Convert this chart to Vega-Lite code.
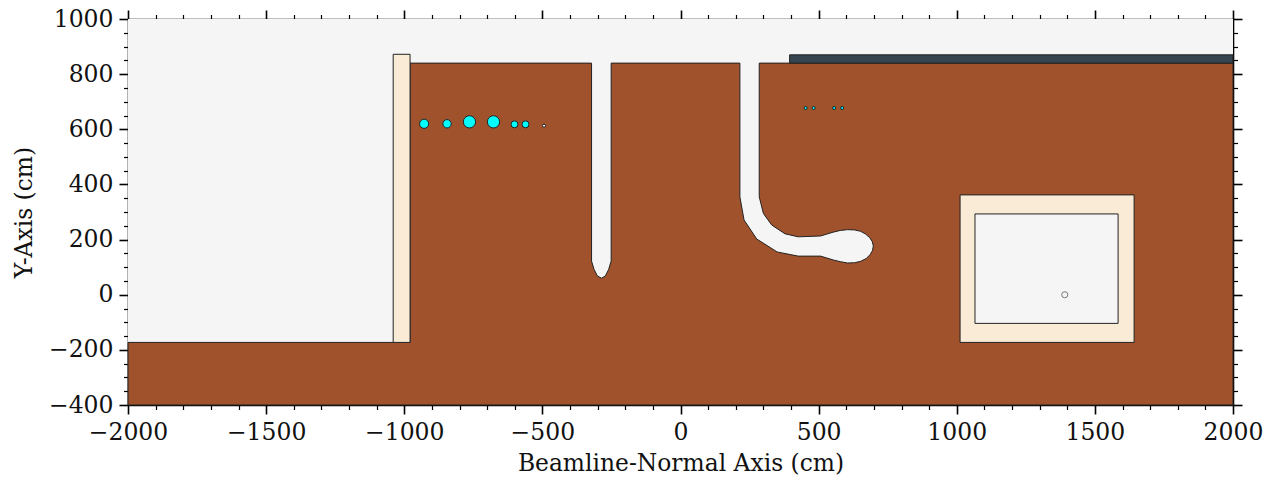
{
"$schema":"https://vega.github.io/schema/vega-lite/v6.json",
"width":1105,"height":386,
"autosize":{"type":"none"},
"padding":{"left":128,"top":19,"right":35,"bottom":74},
"background":"white",
"config":{"view":{"stroke":null},"font":"DejaVu Serif",
"axis":{"grid":false,"labelFont":"DejaVu Serif","titleFont":"DejaVu Serif","labelFontSize":23.5,"titleFontSize":23.4,"titleFontWeight":"normal","labelColor":"#111","titleColor":"#111","labelPadding":6,"tickColor":"black","domainColor":"black","domainWidth":1.6,"tickWidth":1.6,"tickSize":9,"labelOverlap":false,"labelFlush":false,"zindex":1,"format":"d"}},
"datasets":{
"air":[{"x":-2000,"x2":2000,"y":-400,"y2":1000}],
"room":[{"x":1066,"x2":1584,"y":-104,"y2":293}],
"ground":[
{"i":0,"x":-2000,"y":-400},{"i":1,"x":2000,"y":-400},{"i":2,"x":2000,"y":840},{"i":3,"x":285,"y":840},{"i":4,"x":285,"y":355},{"i":5,"x":300,"y":295},{"i":6,"x":330,"y":253},{"i":7,"x":378,"y":221},{"i":8,"x":426,"y":210},{"i":9,"x":507,"y":213},{"i":10,"x":530,"y":220},{"i":11,"x":553,"y":227},{"i":12,"x":578,"y":233},{"i":13,"x":605,"y":236},{"i":14,"x":630,"y":235},{"i":15,"x":652,"y":230},{"i":16,"x":670,"y":220},{"i":17,"x":685,"y":207},{"i":18,"x":694,"y":193},{"i":19,"x":698,"y":177},{"i":20,"x":695,"y":160},{"i":21,"x":686,"y":145},{"i":22,"x":672,"y":131},{"i":23,"x":652,"y":121},{"i":24,"x":630,"y":116},{"i":25,"x":605,"y":115},{"i":26,"x":578,"y":120},{"i":27,"x":553,"y":126},{"i":28,"x":530,"y":133},{"i":29,"x":507,"y":140},{"i":30,"x":426,"y":140},{"i":31,"x":350,"y":155},{"i":32,"x":276,"y":202},{"i":33,"x":230,"y":271},{"i":34,"x":215,"y":355},{"i":35,"x":215,"y":840},{"i":36,"x":-251,"y":840},{"i":37,"x":-251,"y":122},{"i":38,"x":-260,"y":92},{"i":39,"x":-272,"y":68},{"i":40,"x":-286,"y":60},{"i":41,"x":-301,"y":68},{"i":42,"x":-313,"y":92},{"i":43,"x":-322,"y":122},{"i":44,"x":-322,"y":840},{"i":45,"x":-979,"y":840},{"i":46,"x":-979,"y":-173},{"i":47,"x":-2000,"y":-173}],
"wall":[{"x":-1040,"x2":-979,"y":-173,"y2":872}],
"roof":[{"x":395,"x2":2000,"y":840,"y2":870}],
"shell":[{"x":1012,"x2":1642,"y":-173,"y2":362}],
"points":[
{"x":-928,"y":620,"r":16.5,"kind":"a"},{"x":-845,"y":620,"r":15,"kind":"a"},{"x":-764,"y":627,"r":22,"kind":"a"},{"x":-677,"y":627,"r":22,"kind":"a"},{"x":-601,"y":618,"r":12.5,"kind":"a"},{"x":-561,"y":618,"r":12.5,"kind":"a"},{"x":-494,"y":613,"r":5.5,"kind":"b"},
{"x":453,"y":677,"r":5.5,"kind":"a"},{"x":482,"y":677,"r":5.5,"kind":"a"},{"x":556,"y":677,"r":5.5,"kind":"a"},{"x":585,"y":677,"r":5.5,"kind":"a"},
{"x":1391,"y":0,"r":11,"kind":"c"}]
},
"resolve":{"axis":{"x":"independent","y":"independent"}},
"layer":[
{"data":{"name":"air"},"mark":{"type":"rect","fill":"#f5f5f5","stroke":null},
"encoding":{
"x":{"field":"x","type":"quantitative","scale":{"domain":[-2000,2000],"nice":false,"zero":false},"axis":{"orient":"bottom","title":"Beamline-Normal Axis (cm)","titlePadding":9,"values":[-2000,-1500,-1000,-500,0,500,1000,1500,2000]}},
"x2":{"field":"x2"},
"y":{"field":"y","type":"quantitative","scale":{"domain":[-400,1000],"nice":false,"zero":false},"axis":{"orient":"left","title":"Y-Axis (cm)","titlePadding":12,"values":[-400,-200,0,200,400,600,800,1000]}},
"y2":{"field":"y2"}}},
{"data":{"name":"ground"},"mark":{"type":"line","fill":"#a0522d","stroke":"#222","strokeWidth":1,"interpolate":"linear-closed"},
"encoding":{
"x":{"field":"x","type":"quantitative","axis":{"orient":"bottom","title":null,"labels":false,"domain":false,"tickSize":4.5,"tickWidth":1.2,"values":[-1900,-1800,-1700,-1600,-1400,-1300,-1200,-1100,-900,-800,-700,-600,-400,-300,-200,-100,100,200,300,400,600,700,800,900,1100,1200,1300,1400,1600,1700,1800,1900]}},
"y":{"field":"y","type":"quantitative","axis":{"orient":"left","title":null,"labels":false,"domain":false,"tickSize":4.5,"tickWidth":1.2,"values":[-350,-300,-250,-150,-100,-50,50,100,150,250,300,350,450,500,550,650,700,750,850,900,950]}},
"order":{"field":"i","type":"quantitative"}}},
{"data":{"name":"wall"},"mark":{"type":"rect","fill":"#faebd7","stroke":"#222","strokeWidth":1},
"encoding":{
"x":{"field":"x","type":"quantitative","axis":{"orient":"top","title":null,"labels":false,"tickSize":9,"values":[-2000,-1500,-1000,-500,0,500,1000,1500,2000]}},
"x2":{"field":"x2"},
"y":{"field":"y","type":"quantitative","axis":{"orient":"right","title":null,"labels":false,"tickSize":9,"values":[-400,-200,0,200,400,600,800,1000]}},
"y2":{"field":"y2"}}},
{"data":{"name":"roof"},"mark":{"type":"rect","fill":"#36454f","stroke":"#222","strokeWidth":1},
"encoding":{
"x":{"field":"x","type":"quantitative","axis":{"orient":"top","title":null,"labels":false,"domain":false,"tickSize":4.5,"tickWidth":1.2,"values":[-1900,-1800,-1700,-1600,-1400,-1300,-1200,-1100,-900,-800,-700,-600,-400,-300,-200,-100,100,200,300,400,600,700,800,900,1100,1200,1300,1400,1600,1700,1800,1900]}},
"x2":{"field":"x2"},
"y":{"field":"y","type":"quantitative","axis":{"orient":"right","title":null,"labels":false,"domain":false,"tickSize":4.5,"tickWidth":1.2,"values":[-350,-300,-250,-150,-100,-50,50,100,150,250,300,350,450,500,550,650,700,750,850,900,950]}},
"y2":{"field":"y2"}}},
{"data":{"name":"shell"},"mark":{"type":"rect","fill":"#faebd7","stroke":"#222","strokeWidth":1},
"encoding":{"x":{"field":"x","type":"quantitative","axis":null},"x2":{"field":"x2"},"y":{"field":"y","type":"quantitative","axis":null},"y2":{"field":"y2"}}},
{"data":{"name":"room"},"mark":{"type":"rect","fill":"#f5f5f5","stroke":"#222","strokeWidth":1},
"encoding":{"x":{"field":"x","type":"quantitative","axis":null},"x2":{"field":"x2"},"y":{"field":"y","type":"quantitative","axis":null},"y2":{"field":"y2"}}},
{"data":{"name":"points"},"mark":{"type":"circle","strokeWidth":1,"opacity":1},
"encoding":{"x":{"field":"x","type":"quantitative","axis":null},"y":{"field":"y","type":"quantitative","axis":null},
"size":{"field":"r","type":"quantitative","legend":null,"scale":{"type":"pow","exponent":2,"domain":[0,22],"range":[0,150]}},
"color":{"field":"kind","type":"nominal","legend":null,"scale":{"domain":["a","b","c"],"range":["#00ffff","#f5f5f5","#f5f5f5"]}},
"stroke":{"field":"kind","type":"nominal","legend":null,"scale":{"domain":["a","b","c"],"range":["#222","#222","#777"]}}}}
]
}
